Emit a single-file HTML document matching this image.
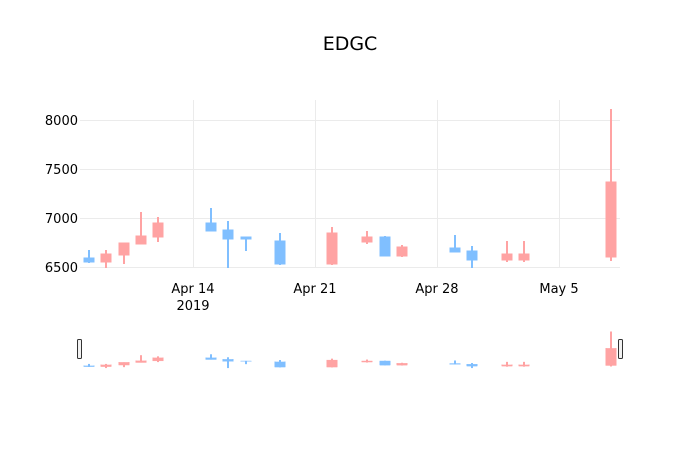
<!DOCTYPE html>
<html><head><meta charset="utf-8"><style>
body{margin:0;background:#fff;}
text{font-family:"DejaVu Sans","Liberation Sans",sans-serif;fill:#000;}
</style></head><body>
<svg width="700" height="450" xmlns="http://www.w3.org/2000/svg">
<rect width="700" height="450" fill="#fff"/>
<text x="350" y="50" font-size="19" text-anchor="middle">EDGC</text>
<g stroke="#ebebeb" stroke-width="1">
<line x1="80" x2="620" y1="120.5" y2="120.5"/>
<line x1="80" x2="620" y1="169.5" y2="169.5"/>
<line x1="80" x2="620" y1="218.5" y2="218.5"/>
<line x1="80" x2="620" y1="267.5" y2="267.5"/>
<line x1="193.5" x2="193.5" y1="100" y2="268"/>
<line x1="315.5" x2="315.5" y1="100" y2="268"/>
<line x1="437.5" x2="437.5" y1="100" y2="268"/>
<line x1="559.5" x2="559.5" y1="100" y2="268"/>
</g>
<g font-size="13" text-anchor="end">
<text x="78" y="125">8000</text>
<text x="78" y="174">7500</text>
<text x="78" y="223">7000</text>
<text x="78" y="272">6500</text>
</g>
<g font-size="13" text-anchor="middle">
<text x="193" y="293">Apr 14</text>
<text x="193" y="310">2019</text>
<text x="315" y="293">Apr 21</text>
<text x="437" y="293">Apr 28</text>
<text x="559" y="293">May 5</text>
</g>
<defs>
<g id="c">
<g fill="#80bfff" stroke="#80bfff">
<line x1="89" x2="89" y1="250" y2="263" stroke-width="2" vector-effect="non-scaling-stroke"/><rect x="84" y="258" width="10" height="4"/>
<line x1="211" x2="211" y1="208" y2="231" stroke-width="2" vector-effect="non-scaling-stroke"/><rect x="206" y="223" width="10" height="8"/>
<line x1="228" x2="228" y1="221" y2="268" stroke-width="2" vector-effect="non-scaling-stroke"/><rect x="223" y="230" width="10" height="9"/>
<line x1="246" x2="246" y1="237" y2="251" stroke-width="2" vector-effect="non-scaling-stroke"/><rect x="241" y="237" width="10" height="2"/>
<line x1="280" x2="280" y1="233" y2="265" stroke-width="2" vector-effect="non-scaling-stroke"/><rect x="275" y="241" width="10" height="23"/>
<line x1="385" x2="385" y1="236" y2="256" stroke-width="2" vector-effect="non-scaling-stroke"/><rect x="380" y="237" width="10" height="19"/>
<line x1="455" x2="455" y1="235" y2="252" stroke-width="2" vector-effect="non-scaling-stroke"/><rect x="450" y="248" width="10" height="4"/>
<line x1="472" x2="472" y1="246" y2="268" stroke-width="2" vector-effect="non-scaling-stroke"/><rect x="467" y="251" width="10" height="9"/>
</g>
<g fill="#ffa3a3" stroke="#ffa3a3">
<line x1="106" x2="106" y1="250" y2="268" stroke-width="2" vector-effect="non-scaling-stroke"/><rect x="101" y="254" width="10" height="8"/>
<line x1="124" x2="124" y1="243" y2="264" stroke-width="2" vector-effect="non-scaling-stroke"/><rect x="119" y="243" width="10" height="12"/>
<line x1="141" x2="141" y1="212" y2="244" stroke-width="2" vector-effect="non-scaling-stroke"/><rect x="136" y="236" width="10" height="8"/>
<line x1="158" x2="158" y1="217" y2="242" stroke-width="2" vector-effect="non-scaling-stroke"/><rect x="153" y="223" width="10" height="14"/>
<line x1="332" x2="332" y1="227" y2="265" stroke-width="2" vector-effect="non-scaling-stroke"/><rect x="327" y="233" width="10" height="31"/>
<line x1="367" x2="367" y1="231" y2="244" stroke-width="2" vector-effect="non-scaling-stroke"/><rect x="362" y="237" width="10" height="5"/>
<line x1="402" x2="402" y1="245" y2="257" stroke-width="2" vector-effect="non-scaling-stroke"/><rect x="397" y="247" width="10" height="9"/>
<line x1="507" x2="507" y1="241" y2="262" stroke-width="2" vector-effect="non-scaling-stroke"/><rect x="502" y="254" width="10" height="6"/>
<line x1="524" x2="524" y1="241" y2="262" stroke-width="2" vector-effect="non-scaling-stroke"/><rect x="519" y="254" width="10" height="6"/>
<line x1="611" x2="611" y1="109" y2="261" stroke-width="2" vector-effect="non-scaling-stroke"/><rect x="606" y="182" width="10" height="75"/>
</g>
</g>
</defs>
<use href="#c"/>
<g transform="translate(0,331.5) scale(1,0.23) translate(0,-109)"><use href="#c"/></g>
<rect x="77.5" y="339.5" width="4" height="19" rx="1" fill="#f2f2f2" stroke="#333"/>
<rect x="618.5" y="339.5" width="4" height="19" rx="1" fill="#f2f2f2" stroke="#333"/>
</svg>
</body></html>
